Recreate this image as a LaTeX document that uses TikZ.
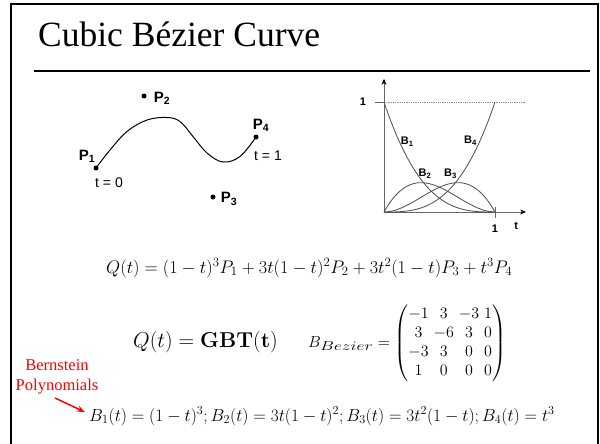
\RequirePackage{fix-cm}
\documentclass[tikz,border=0pt]{standalone}
\usepackage{amsmath,amssymb}
\usepackage{graphicx}
\usepackage[no-math]{fontspec}
\setmainfont{Liberation Serif}
\newfontfamily\labelfont{Liberation Sans}
\usetikzlibrary{arrows.meta,positioning}

\begin{document}
\begin{tikzpicture}[x=1pt,y=-1pt,
  dot/.style={circle,fill=black,inner sep=0pt,minimum size=5pt},
  plabel/.style={font=\labelfont\bfseries\fontsize{15}{16}\selectfont,inner sep=0pt},
  tlabel/.style={font=\labelfont\fontsize{14}{15}\selectfont,inner sep=0pt},
  blabel/.style={font=\labelfont\bfseries\fontsize{11}{12}\selectfont,inner sep=0pt},
  eqn/.style={inner sep=0pt,anchor=base west},
  basis/.style={draw=black!70,line width=0.8pt},
  axis/.style={draw=black!60,line width=0.7pt,-{Stealth[length=6pt,width=5pt,black]}}]

\useasboundingbox (0,0) rectangle (600,444);

% Frame and title
\draw[line width=2pt] (11,444) -- (11,4) -- (598,4) -- (598,444);
\node[anchor=base west,inner sep=0pt,font=\fontsize{35.5}{40}\selectfont] (title) at (38,47) {Cubic Bézier Curve};
\draw[line width=2pt] (34,71) -- (590,71);

% Curve with control points
\node[dot] (p1) at (96,168) {};
\node[dot] (p2) at (144,96) {};
\node[dot] (p3) at (213,197) {};
\node[dot] (p4) at (256,137) {};
\node[plabel] (p1lab) at (87,156) {P\textsubscript{1}};
\node[plabel] (p2lab) at (162,98) {P\textsubscript{2}};
\node[plabel] (p3lab) at (229,199) {P\textsubscript{3}};
\node[plabel] (p4lab) at (261,125) {P\textsubscript{4}};
\node[tlabel] (t0) at (109,183) {t = 0};
\node[tlabel] (t1) at (268,156) {t = 1};
\draw[line width=1pt] plot[smooth,tension=0.6] coordinates {(p1.center) (110,150) (127,131.5) (147,120) (167,117.5) (180,121.5) (193,136.5) (207,153) (223,162) (240,156.5) (p4.center)};

% Bernstein basis plot
\begin{scope}[shift={(384,212)},x=111pt,y=110pt]
\coordinate (origin) at (0,0);
\coordinate (ytop) at (0,1.21);
\coordinate (xend) at (1.28,0);
\coordinate (yone) at (0,1);
\coordinate (yonel) at (-0.08,1);
\coordinate (yoner) at (1.28,1);
\coordinate (xtickb) at (1,-0.05);
\coordinate (xtickt) at (1,0.05);
\draw[black!45,densely dotted,line width=0.8pt] (yone) -- (yoner);
\draw[black!60,line width=0.7pt] (yonel) -- (yone);
\draw[black!60,line width=0.7pt] (xtickb) -- (xtickt);
\draw[axis] (origin) -- (ytop);
\draw[axis] (origin) -- (xend);
\draw[basis] plot[domain=0:1,samples=60] (\x,{(1-\x)^3});
\draw[basis] plot[domain=0:1,samples=60] (\x,{0.6*3*\x*(1-\x)^2});
\draw[basis] plot[domain=0:1,samples=60] (\x,{0.6*3*\x*\x*(1-\x)});
\draw[basis] plot[domain=0:1,samples=60] (\x,{\x^3});
\node[blabel] (yonelab) at (-0.19,1) {1};
\node[blabel] (xonelab) at (1,-0.15) {1};
\node[blabel] (tlab) at (1.19,-0.125) {t};
\node[blabel] (b1) at (0.21,0.64) {B\textsubscript{1}};
\node[blabel] (b2) at (0.37,0.35) {B\textsubscript{2}};
\node[blabel] (b3) at (0.6,0.35) {B\textsubscript{3}};
\node[blabel] (b4) at (0.78,0.65) {B\textsubscript{4}};
\end{scope}

% Equations
\node[eqn,font=\fontsize{18.2}{21}\selectfont] (qeq) at (106,273) {$Q(t)=(1-t)^3P_1+3t(1-t)^2P_2+3t^2(1-t)P_3+t^3P_4$};
\node[eqn,font=\fontsize{21.5}{25}\selectfont] (gbt) at (133,347) {$Q(t)=\mathbf{GBT(t)}$};
\node[eqn,font=\fontsize{16}{19}\selectfont] (bmat) at (308,347) {\setlength{\arraycolsep}{2.5pt}$B_{\mbox{\fontsize{13}{15}\selectfont\scalebox{1.35}[1]{$Bezier$}}}=\begin{pmatrix}-1&3&-3&1\\3&-6&3&0\\-3&3&0&0\\1&0&0&0\end{pmatrix}$};
\node[eqn,font=\fontsize{17.4}{20}\selectfont] (beq) at (89,421) {$B_1(t)=(1-t)^3; B_2(t)=3t(1-t)^2; B_3(t)=3t^2(1-t); B_4(t)=t^3$};

% Note
\node[font=\fontsize{16.5}{20}\selectfont,text=red,align=center,inner sep=0pt] (bern) at (57,377) {Bernstein\\Polynomials};
\coordinate (arrtail) at (55,398);
\draw[-{Stealth[length=8pt,width=6pt]},red,line width=1.5pt] (arrtail) -- ([xshift=-4pt,yshift=4pt]beq.west);

\end{tikzpicture}
\end{document}
